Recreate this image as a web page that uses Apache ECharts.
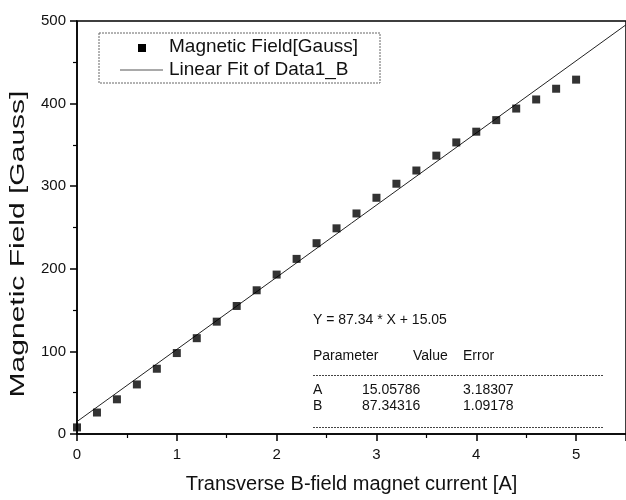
<!DOCTYPE html>
<html>
<head>
<meta charset="utf-8">
<script src="https://cdn.jsdelivr.net/npm/echarts@6/dist/echarts.min.js"></script>
<style>
  html, body { margin: 0; padding: 0; background: #fff; }
  #chart { width: 626px; height: 500px; }
</style>
</head>
<body>
<div id="chart"></div>
<script>
// measured points, current in A / field in Gauss
const currentA = [0, 0.2, 0.4, 0.6, 0.8, 1.0, 1.2, 1.4, 1.6, 1.8, 2.0, 2.2, 2.4,
  2.6, 2.8, 3.0, 3.2, 3.4, 3.6, 3.8, 4.0, 4.2, 4.4, 4.6, 4.8, 5.0];
const fieldGauss = [8, 26, 42, 60, 79, 98, 116, 136, 155, 174, 193, 212, 231,
  249, 267, 286, 303, 319, 337, 353, 366, 380, 394, 405, 418, 429];

// linear fit end points (Y = 87.34316 * X + 15.05786)
const fitX = [0, 5.5];
const fitY = [15.06, 495.44];

const paramRows = [
  ["A", "15.05786", "3.18307"],
  ["B", "87.34316", "1.09178"],
];

const FONT = "Liberation Sans, Arial, sans-serif";

const chart = echarts.init(document.getElementById("chart"));

const tableText = [];
paramRows.forEach((row, i) => {
  const y = 391 + i * 16;
  tableText.push({ type: "text", left: 313, top: y - 8, style: { text: row[0], font: `14px ${FONT}`, fill: "#111" } });
  tableText.push({ type: "text", left: 362, top: y - 8, style: { text: row[1], font: `14px ${FONT}`, fill: "#111" } });
  tableText.push({ type: "text", left: 463, top: y - 8, style: { text: row[2], font: `14px ${FONT}`, fill: "#111" } });
});

chart.setOption({
  animation: false,
  grid: {
    left: 77, top: 21, width: 552, height: 413,
    show: true, borderColor: "#000", borderWidth: 1.5,
  },
  xAxis: {
    type: "value",
    min: 0, max: 5.5, interval: 1,
    name: "Transverse B-field magnet current [A]",
    nameLocation: "middle",
    nameGap: 40,
    nameTextStyle: { fontFamily: FONT, fontSize: 20, color: "#111" },
    axisLine: { lineStyle: { color: "#000", width: 1.5 } },
    axisTick: { inside: false, length: 7, lineStyle: { color: "#000", width: 1.5 } },
    minorTick: { show: true, splitNumber: 2, length: 4, lineStyle: { color: "#000", width: 1.2 } },
    axisLabel: { fontFamily: FONT, fontSize: 15, color: "#111", margin: 13, showMaxLabel: false },
    splitLine: { show: false },
  },
  yAxis: {
    type: "value",
    min: 0, max: 500, interval: 100,
    axisLine: { show: true, lineStyle: { color: "#000", width: 1.5 } },
    axisTick: { show: true, inside: false, length: 7, lineStyle: { color: "#000", width: 1.5 } },
    minorTick: { show: true, splitNumber: 2, length: 4, lineStyle: { color: "#000", width: 1.2 } },
    axisLabel: { fontFamily: FONT, fontSize: 15, color: "#111", margin: 11 },
    splitLine: { show: false },
  },
  series: [
    {
      name: "Linear Fit of Data1_B",
      type: "line",
      data: fitX.map((x, i) => [x, fitY[i]]),
      showSymbol: false,
      lineStyle: { color: "#222", width: 1 },
      z: 2,
    },
    {
      name: "Magnetic Field[Gauss]",
      type: "scatter",
      data: currentA.map((x, i) => [x, fieldGauss[i]]),
      symbol: "rect",
      symbolSize: 8,
      itemStyle: { color: "#000" },
      z: 3,
    },
  ],
  graphic: [
    // y axis title, stretched along its length like the scan
    { type: "text", x: 18, y: 244, rotation: Math.PI / 2, scaleX: 1.5,
      style: { text: "Magnetic Field [Gauss]", font: `20px ${FONT}`, fill: "#111", align: "center", verticalAlign: "middle" } },
    // legend box
    { type: "rect", shape: { x: 99, y: 33, width: 281, height: 50 },
      style: { fill: "#fff", stroke: "#666", lineWidth: 1, lineDash: [2, 1] }, z: 10 },
    { type: "rect", shape: { x: 138, y: 44, width: 8, height: 8 }, style: { fill: "#000" }, z: 11 },
    { type: "text", left: 169, top: 37, z: 11,
      style: { text: "Magnetic Field[Gauss]", font: `19px ${FONT}`, fill: "#111" } },
    { type: "line", shape: { x1: 120, y1: 70, x2: 163, y2: 70 }, style: { stroke: "#555", lineWidth: 1 }, z: 11 },
    { type: "text", left: 169, top: 60, z: 11,
      style: { text: "Linear Fit of Data1_B", font: `19px ${FONT}`, fill: "#111" } },
    // fit results
    { type: "text", left: 313, top: 313, style: { text: "Y = 87.34 * X + 15.05", font: `14px ${FONT}`, fill: "#111" } },
    { type: "text", left: 313, top: 349, style: { text: "Parameter", font: `14px ${FONT}`, fill: "#111" } },
    { type: "text", left: 413, top: 349, style: { text: "Value", font: `14px ${FONT}`, fill: "#111" } },
    { type: "text", left: 463, top: 349, style: { text: "Error", font: `14px ${FONT}`, fill: "#111" } },
    { type: "line", shape: { x1: 313, y1: 375.5, x2: 603, y2: 375.5 }, style: { stroke: "#444", lineWidth: 1, lineDash: [2, 1] } },
    { type: "line", shape: { x1: 313, y1: 427.5, x2: 603, y2: 427.5 }, style: { stroke: "#444", lineWidth: 1, lineDash: [2, 1] } },
    ...tableText,
  ],
});
</script>
</body>
</html>
